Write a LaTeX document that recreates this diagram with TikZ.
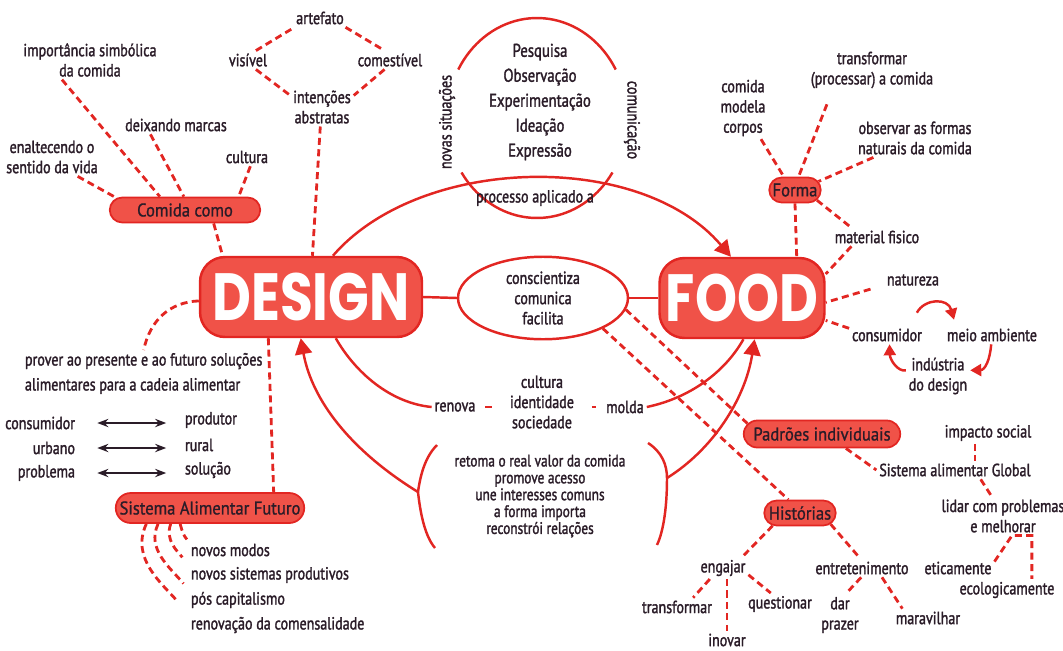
\documentclass[tikz,border=0pt]{standalone}
\usepackage{fontspec}
\setmainfont{PT Sans}[FakeStretch=0.8, FakeBold=1.6]
\newfontfamily\pillfont{PT Sans}[FakeStretch=0.9, FakeBold=1]
\newfontfamily\titlefont{Poppins}[FakeStretch=0.8]
\usetikzlibrary{arrows.meta,shapes.geometric,shapes.misc}

\definecolor{mapred}{RGB}{226,38,34}
\definecolor{pillred}{RGB}{240,82,72}
\definecolor{ink}{RGB}{42,28,40}

\tikzset{
  lbl/.style={text=ink, align=center, inner sep=1.5pt, font=\fontsize{10}{11.5}\selectfont},
  pill/.style={rounded rectangle, fill=pillred, draw=mapred, line width=1pt, text=ink,
    font=\pillfont\fontsize{10.5}{12}\selectfont, inner sep=1pt},
  hub/.style={rounded corners=0.5cm, fill=pillred, draw=mapred, line width=1.4pt,
    text=white, font=\titlefont\bfseries\fontsize{38}{40}\selectfont, minimum height=1.6cm},
  dsh/.style={draw=mapred, line width=1.6pt, dash pattern=on 4pt off 2.5pt},
  link/.style={draw=mapred, line width=1.4pt},
  tip/.style={-{Triangle[length=3.2mm,width=3.4mm]}},
  small tip/.style={-{Triangle[length=2.2mm,width=2.4mm]}},
  both/.style={{Stealth[length=2.2mm]}-{Stealth[length=2.2mm]}, draw=ink, line width=1.2pt}
}

\begin{document}
\begin{tikzpicture}[x=0.02cm, y=-0.02cm]
\useasboundingbox (0,0) rectangle (1063,650);

% the two hubs and the middle ellipse
\node[hub, minimum width=4.44cm] (design) at (311,297) {DESIGN};
\node[hub, minimum width=3.3cm] (food) at (742,298) {FOOD};
\node[lbl, ellipse, draw=mapred, line width=1.4pt, fill=white, minimum width=3.4cm, minimum height=1.44cm] (aware) at (543,298) {conscientiza\\comunica\\facilita};
\draw[link] (design.east) -- (aware.west);
\draw[link] (aware.east) -- (food.west);

% process circle on top
\draw[link] plot[domain=29:151, samples=40] ({537+90*cos(\x)}, {118-100*sin(\x)});
\draw[link] plot[domain=-147:-33, samples=40] ({537+90*cos(\x)}, {118-100*sin(\x)});
\node[lbl, font=\fontsize{10.5}{14.2}\selectfont] (steps) at (540,102) {Pesquisa\\Observação\\Experimentação\\Ideação\\Expressão};
\node[lbl, rotate=90] (novas) at (447,122) {novas situações};
\node[lbl, rotate=-90] (comunic) at (632,120) {comunicação};
\node[lbl] (processo) at (535,198) {processo aplicado a};
\draw[link, tip] (design.62) .. controls (420,155) and (640,150) .. (food.105);

% comida como
\node[pill, minimum width=3.08cm, minimum height=0.5cm] (comida) at (185,210) {Comida como};
\node[lbl] (simbolica) at (90,60) {importância simbólica\\da comida};
\node[lbl] (enaltecendo) at (52,157) {enaltecendo o\\sentido da vida};
\node[lbl] (marcas) at (176,125) {deixando marcas};
\node[lbl] (cultura) at (247,157) {cultura};
\draw[dsh] (simbolica.215) -- (comida.152);
\draw[dsh] (enaltecendo.-37) -- (comida.170);
\draw[dsh] (marcas.200) -- (comida.95);
\draw[dsh] (cultura.-70) -- (comida.14);
\draw[dsh] (comida.-25) -- (design.155);

% artefato
\node[lbl] (artefato) at (320,18) {artefato};
\node[lbl] (visivel) at (248,60) {visível};
\node[lbl] (comestivel) at (390,60) {comestível};
\node[lbl] (intencoes) at (322,107) {intenções\\abstratas};
\draw[dsh] (visivel.50) -- (artefato.200);
\draw[dsh] (visivel.-50) -- (intencoes.160);
\draw[dsh] (artefato.-20) -- (comestivel.120);
\draw[dsh] (comestivel.-120) -- (intencoes.20);
\draw[dsh] (intencoes.265) -- (design.88);

% forma
\node[pill, minimum width=1.1cm, minimum height=0.5cm] (forma) at (795,190) {Forma};
\node[lbl] (corpos) at (743,108) {comida\\modela\\corpos};
\node[lbl] (processar) at (872,70) {transformar\\(processar) a comida};
\node[lbl] (naturais) at (915,138) {observar as formas\\naturais da comida};
\node[lbl] (material) at (877,237) {material fisico};
\draw[dsh] (corpos.-60) -- (forma.130);
\draw[dsh, shorten <=8pt] (processar.-152) -- (forma.75);
\draw[dsh] (naturais.205) -- (forma.20);
\draw[dsh] (forma.-25) -- (material.160);
\draw[dsh] (forma.south) -- (food.37);
\draw[dsh] (material.-160) -- (food.16);

% food side
\node[lbl] (natureza) at (913,280) {natureza};
\node[lbl] (consumidor) at (887,335) {consumidor};
\node[lbl] (meio) at (992,335) {meio ambiente};
\node[lbl] (industria) at (938,376) {indústria\\do design};
\draw[dsh, shorten <=8pt] (natureza.190) -- (food.-3);
\draw[dsh] (consumidor.170) -- (food.-15);
\draw[link, small tip] ([xshift=-0.16cm, yshift=0.26cm]consumidor.north east) .. controls (925,298) and (948,298) .. ([xshift=0.2cm, yshift=0.12cm]meio.north west);
\draw[link, small tip] (meio.-95) .. controls (990,360) and (985,370) .. (industria.10);
\draw[link, small tip] (industria.170) .. controls (898,372) and (890,360) .. (consumidor.-75);

% padroes and historias
\node[pill, minimum width=3.2cm, minimum height=0.54cm] (padroes) at (822,434) {Padrões individuais};
\node[pill, minimum width=1.5cm, minimum height=0.5cm] (historias) at (800,513) {Histórias};
\draw[dsh] (aware.-8) -- (padroes.172);
\draw[dsh] (aware.-27) -- (historias.131);

\node[lbl] (global) at (955,470) {Sistema alimentar Global};
\node[lbl] (impacto) at (988,433) {impacto social};
\node[lbl] (lidar) at (1003,516) {lidar com problemas\\e melhorar};
\node[lbl] (eticamente) at (958,568) {eticamente};
\node[lbl] (ecologicamente) at (1007,590) {ecologicamente};
\draw[dsh] (padroes.-31) -- (global.west);
\draw[dsh] ([xshift=-0.26cm]impacto.south) -- ([xshift=-0.26cm]impacto.south |- global.north);
\draw[dsh] (global.-20) -- (lidar.120);
\draw[dsh] (eticamente.10) -- (lidar.-65) -| (ecologicamente.24);

\node[lbl] (engajar) at (723,568) {engajar};
\node[lbl] (entretenimento) at (862,568) {entretenimento};
\node[lbl] (transformar) at (677,607) {transformar};
\node[lbl] (inovar) at (727,640) {inovar};
\node[lbl] (questionar) at (780,604) {questionar};
\node[lbl] (prazer) at (840,615) {dar\\prazer};
\node[lbl] (maravilhar) at (928,618) {maravilhar};
\draw[dsh] (historias.-155) -- (engajar.30);
\draw[dsh] (historias.-20) -- (entretenimento.100);
\draw[dsh] (engajar.-140) -- (transformar.30);
\draw[dsh] (inovar.north |- engajar.south) -- (inovar.north);
\draw[dsh] (engajar.-15) -- (questionar.130);
\draw[dsh] (entretenimento.-95) -- (prazer.75);
\draw[dsh] (entretenimento.-25) -- (maravilhar.160);

% renova / molda
\node[lbl] (renova) at (455,407) {renova};
\node[lbl] (identidade) at (542,402) {cultura\\identidade\\sociedade};
\node[lbl] (molda) at (625,407) {molda};
\draw[link, shorten <=4pt, shorten >=8.5pt] (renova.east) -- (renova.east -| identidade.west);
\draw[link, shorten <=8.5pt, shorten >=4pt] (molda.west -| identidade.east) -- (molda.west);
\draw[link] (design.-59) .. controls (355,372) and (390,403) .. (renova.west);
\draw[link] (molda.east) .. controls (690,398) and (725,372) .. (food.-88);

% bracketed list
\node[lbl, font=\fontsize{9.5}{9.6}\selectfont] (valores) at (540,496) {retoma o real valor da comida\\promove acesso\\une interesses comuns\\a forma importa\\reconstrói relações};
\coordinate (lbrace) at (418,492);
\coordinate (rbrace) at (667,478);
\draw[link] (437,445) .. controls (424,458) and (420,478) .. (lbrace) .. controls (420,510) and (424,535) .. (435,548);
\draw[link] (648,443) .. controls (662,452) and (667,465) .. (rbrace) .. controls (667,505) and (664,530) .. (657,545);
\draw[link, tip] (lbrace) .. controls (350,450) and (312,400) .. (design.-104);
\draw[link, tip] (rbrace) .. controls (712,450) and (745,400) .. (food.-73);

% futuro
\node[lbl, align=left, anchor=north west, font=\fontsize{10}{14.2}\selectfont] (prover) at (22,350) {prover ao presente e ao futuro soluções\\alimentares para a cadeia alimentar};
\draw[dsh] (design.182) .. controls (170,302) and (150,320) .. (prover.north);

\node[lbl, anchor=east] (consumer) at (78,423) {consumidor};
\node[lbl, anchor=east] (urbano) at (78,448) {urbano};
\node[lbl, anchor=east] (problema) at (78,473) {problema};
\node[lbl, anchor=west] (produtor) at (182,420) {produtor};
\node[lbl, anchor=west] (rural) at (182,445) {rural};
\node[lbl, anchor=west] (solucao) at (182,470) {solução};
\foreach \a/\b in {consumer/produtor, urbano/rural, problema/solucao}
  \draw[both, shorten <=11pt, shorten >=9pt] (\a.east) -- (\a.east -| \b.west);

\node[pill, minimum width=3.84cm, minimum height=0.6cm] (sistema) at (210,508) {Sistema Alimentar Futuro};
\draw[dsh] (design.224) -- (sistema.14);
\node[lbl, anchor=west] (modos) at (188,550) {novos modos};
\node[lbl, anchor=west] (sistemas) at (188,575) {novos sistemas produtivos};
\node[lbl, anchor=west] (capitalismo) at (188,600) {pós capitalismo};
\node[lbl, anchor=west] (comensalidade) at (188,625) {renovação da comensalidade};
\foreach \n/\a/\o/\s in {modos/208/-75/1pt, sistemas/202/-110/5pt, capitalismo/197/-115/4pt, comensalidade/194/-115/9pt}
  \draw[dsh, shorten >=\s] (sistema.\a) to[out=\o, in=130] (\n.north west);
\end{tikzpicture}
\end{document}
